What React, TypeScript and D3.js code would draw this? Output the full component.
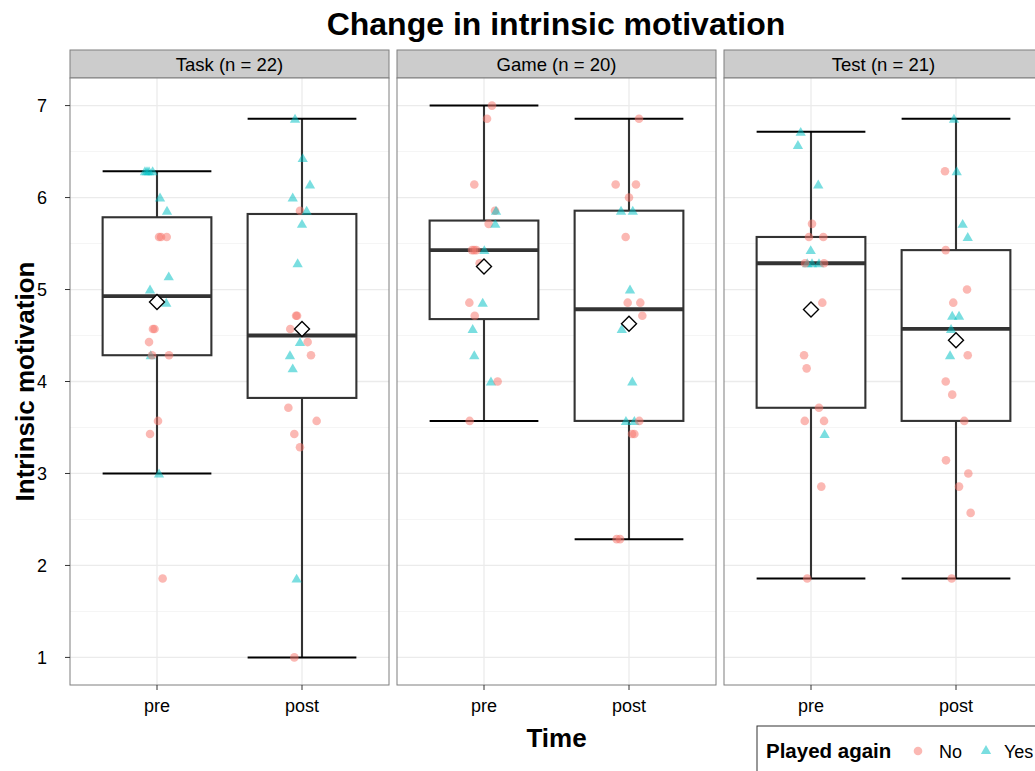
import React from 'react';
import * as d3 from 'd3';

// Facets (tasks) and the two measurement times
const taskLabels = ['Task (n = 22)', 'Game (n = 20)', 'Test (n = 21)'];
const times = ['pre', 'post'];
const yTicks = [1, 2, 3, 4, 5, 6, 7];
const yMinor = [1.5, 2.5, 3.5, 4.5, 5.5, 6.5];
const legendTitle = 'Played again';
const legendLabels = ['No', 'Yes'];

// Sum of the seven scale items per participant (scale score = sum / 7),
// whether they played again, and the horizontal jitter (in category steps)
const taskPreSum = [44, 44, 44, 44, 42, 41, 39, 39, 39, 36, 35, 34, 32, 32, 31, 30, 30, 30, 25, 24, 21, 13];
const taskPrePlayed = ['Yes', 'Yes', 'Yes', 'Yes', 'Yes', 'Yes', 'No', 'No', 'No', 'Yes', 'Yes', 'Yes', 'No', 'No', 'No', 'Yes', 'No', 'No', 'No', 'No', 'Yes', 'No'];
const taskPreJitter = [-0.083, -0.055, -0.03, -0.069, 0.021, 0.069, 0.014, 0.067, 0.028, 0.081, -0.048, 0.064, -0.028, -0.017, -0.055, -0.043, -0.034, 0.083, 0.007, -0.048, 0.014, 0.039];

const taskPostSum = [48, 45, 43, 42, 41, 41, 40, 37, 33, 33, 32, 31, 31, 30, 30, 29, 26, 25, 24, 23, 13, 7];
const taskPostPlayed = ['Yes', 'Yes', 'Yes', 'Yes', 'No', 'Yes', 'Yes', 'Yes', 'No', 'No', 'No', 'Yes', 'No', 'Yes', 'No', 'Yes', 'No', 'No', 'No', 'No', 'Yes', 'No'];
const taskPostJitter = [-0.048, 0.005, 0.055, -0.064, -0.014, 0.032, 0.0, -0.03, -0.041, -0.034, -0.081, -0.014, 0.039, -0.083, 0.062, -0.064, -0.094, 0.101, -0.053, -0.014, -0.037, -0.053];

const gamePreSum = [49, 48, 43, 41, 41, 40, 40, 38, 38, 38, 38, 37, 34, 34, 33, 32, 30, 28, 28, 25];
const gamePrePlayed = ['No', 'No', 'No', 'No', 'Yes', 'No', 'Yes', 'No', 'No', 'No', 'Yes', 'No', 'No', 'Yes', 'No', 'Yes', 'Yes', 'Yes', 'No', 'No'];
const gamePreJitter = [0.055, 0.021, -0.067, 0.076, 0.083, 0.032, 0.078, -0.083, -0.053, -0.069, 0.002, -0.03, -0.101, -0.009, -0.064, -0.078, -0.067, 0.048, 0.094, -0.099];

const gamePostSum = [48, 43, 43, 42, 41, 41, 39, 35, 34, 34, 33, 32, 28, 25, 25, 25, 24, 24, 16, 16];
const gamePostPlayed = ['No', 'No', 'No', 'No', 'Yes', 'Yes', 'No', 'Yes', 'No', 'No', 'No', 'Yes', 'Yes', 'Yes', 'Yes', 'No', 'No', 'No', 'No', 'No'];
const gamePostJitter = [0.069, -0.092, 0.048, 0.0, -0.055, 0.026, -0.023, 0.007, -0.009, 0.078, 0.092, -0.05, 0.023, -0.021, 0.037, 0.071, 0.037, 0.021, -0.085, -0.062];

const testPreSum = [47, 46, 43, 40, 39, 39, 38, 37, 37, 37, 37, 37, 34, 30, 29, 26, 25, 25, 24, 20, 13];
const testPrePlayed = ['Yes', 'Yes', 'Yes', 'No', 'No', 'No', 'Yes', 'Yes', 'Yes', 'Yes', 'No', 'No', 'No', 'No', 'No', 'No', 'No', 'No', 'Yes', 'No', 'No'];
const testPreJitter = [-0.071, -0.09, 0.05, 0.007, -0.014, 0.085, -0.002, -0.026, 0.055, 0.007, -0.041, 0.09, 0.078, -0.048, -0.03, 0.055, -0.043, 0.09, 0.094, 0.071, -0.026];

const testPostSum = [48, 44, 44, 40, 39, 38, 35, 34, 33, 33, 32, 30, 30, 28, 27, 25, 22, 21, 20, 18, 13];
const testPostPlayed = ['Yes', 'No', 'Yes', 'Yes', 'Yes', 'No', 'No', 'No', 'Yes', 'Yes', 'Yes', 'Yes', 'No', 'No', 'No', 'No', 'No', 'No', 'No', 'No', 'No'];
const testPostJitter = [-0.014, -0.076, 0.005, 0.046, 0.081, -0.071, 0.076, -0.019, -0.026, 0.021, -0.034, -0.041, 0.081, -0.071, -0.026, 0.057, -0.069, 0.085, 0.021, 0.101, -0.03];

const ITEMS = 7;

type Group = { sums: number[]; played: string[]; jitter: number[] };
const facets: Group[][] = [
  [
    { sums: taskPreSum, played: taskPrePlayed, jitter: taskPreJitter },
    { sums: taskPostSum, played: taskPostPlayed, jitter: taskPostJitter },
  ],
  [
    { sums: gamePreSum, played: gamePrePlayed, jitter: gamePreJitter },
    { sums: gamePostSum, played: gamePostPlayed, jitter: gamePostJitter },
  ],
  [
    { sums: testPreSum, played: testPrePlayed, jitter: testPreJitter },
    { sums: testPostSum, played: testPostPlayed, jitter: testPostJitter },
  ],
];

const FONT = 'Liberation Sans, Arial, Helvetica, sans-serif';
const colorScale = d3.scaleOrdinal<string, string>().domain(legendLabels).range(['#F8766D', '#00BFC4']);
const circlePath = d3.symbol().type(d3.symbolCircle).size(58)() as string;
const trianglePath = d3.symbol().type(d3.symbolTriangle).size(46)() as string;
const diamondPath = 'M0,-7.5L7.5,0L0,7.5L-7.5,0Z';

function boxStats(values: number[]) {
  const s = [...values].sort(d3.ascending);
  const q1 = d3.quantile(s, 0.25)!;
  const med = d3.quantile(s, 0.5)!;
  const q3 = d3.quantile(s, 0.75)!;
  const iqr = q3 - q1;
  const lo = d3.min(s.filter((v) => v >= q1 - 1.5 * iqr))!;
  const hi = d3.max(s.filter((v) => v <= q3 + 1.5 * iqr))!;
  return { q1, med, q3, lo, hi, mean: d3.mean(s)! };
}

export default function App() {
  const panelLefts = [70, 397, 724];
  const panelW = 319;
  const stripTop = 50;
  const panelTop = 78;
  const panelBottom = 685;

  const y = d3.scaleLinear().domain([0.7, 7.3]).range([panelBottom, panelTop]);

  return (
    <svg
      width={1035}
      height={771}
      style={{ position: 'absolute', left: 0, top: 0, display: 'block', background: '#fff' }}
      fontFamily={FONT}
    >
      <text x={556} y={35} textAnchor="middle" fontSize={32} fontWeight="bold" fill="#000">
        Change in intrinsic motivation
      </text>

      {facets.map((groups, fi) => {
        const left = panelLefts[fi];
        const x = d3.scalePoint<string>().domain(times).range([left, left + panelW]).padding(0.6);
        const step = x.step();
        const boxW = 0.75 * step;
        return (
          <g key={fi}>
            {/* strip */}
            <rect x={left} y={stripTop} width={panelW} height={panelTop - stripTop} fill="#cccccc" stroke="#7f7f7f" strokeWidth={1} />
            <text x={left + panelW / 2} y={71} textAnchor="middle" fontSize={18.5} fill="#000">
              {taskLabels[fi]}
            </text>
            {/* panel background and grid */}
            <rect x={left} y={panelTop} width={panelW} height={panelBottom - panelTop} fill="#fff" />
            {yMinor.map((t) => (
              <line key={'m' + t} x1={left} x2={left + panelW} y1={y(t)} y2={y(t)} stroke="#f5f5f5" strokeWidth={1} />
            ))}
            {yTicks.map((t) => (
              <line key={'M' + t} x1={left} x2={left + panelW} y1={y(t)} y2={y(t)} stroke="#ebebeb" strokeWidth={1.3} />
            ))}
            {times.map((t) => (
              <line key={'v' + t} x1={x(t)} x2={x(t)} y1={panelTop} y2={panelBottom} stroke="#ebebeb" strokeWidth={1.3} />
            ))}

            {groups.map((g, ti) => {
              const cx = x(times[ti])!;
              const vals = g.sums.map((s) => s / ITEMS);
              const st = boxStats(vals);
              return (
                <g key={ti}>
                  {/* whisker line and caps */}
                  <line x1={cx} x2={cx} y1={y(st.hi)} y2={y(st.lo)} stroke="#333" strokeWidth={2.1} />
                  <line x1={cx - boxW / 2} x2={cx + boxW / 2} y1={y(st.hi)} y2={y(st.hi)} stroke="#000" strokeWidth={2} />
                  <line x1={cx - boxW / 2} x2={cx + boxW / 2} y1={y(st.lo)} y2={y(st.lo)} stroke="#000" strokeWidth={2} />
                  {/* box */}
                  <rect
                    x={cx - boxW / 2}
                    y={y(st.q3)}
                    width={boxW}
                    height={y(st.q1) - y(st.q3)}
                    fill="#fff"
                    stroke="#333"
                    strokeWidth={2.1}
                  />
                  <line x1={cx - boxW / 2} x2={cx + boxW / 2} y1={y(st.med)} y2={y(st.med)} stroke="#333" strokeWidth={3.8} />
                  {/* participants */}
                  {vals.map((v, i) => (
                    <path
                      key={i}
                      d={g.played[i] === 'Yes' ? trianglePath : circlePath}
                      transform={`translate(${cx + g.jitter[i] * step},${y(v) + (g.played[i] === 'Yes' ? 1 : 0)})`}
                      fill={colorScale(g.played[i])}
                      fillOpacity={0.52}
                    />
                  ))}
                  {/* mean */}
                  <path d={diamondPath} transform={`translate(${cx},${y(st.mean)})`} fill="#fff" stroke="#000" strokeWidth={1.4} />
                </g>
              );
            })}

            {/* panel border */}
            <rect x={left} y={panelTop} width={panelW} height={panelBottom - panelTop} fill="none" stroke="#7f7f7f" strokeWidth={1} />

            {/* x axis */}
            {times.map((t) => (
              <g key={'xt' + t}>
                <line x1={x(t)} x2={x(t)} y1={panelBottom} y2={panelBottom + 5} stroke="#333" strokeWidth={1} />
                <text x={x(t)} y={712} textAnchor="middle" fontSize={18} fill="#000">
                  {t}
                </text>
              </g>
            ))}
          </g>
        );
      })}

      {/* y axis */}
      {yTicks.map((t) => (
        <g key={'yt' + t}>
          <line x1={65} x2={70} y1={y(t)} y2={y(t)} stroke="#333" strokeWidth={1} />
          <text x={47} y={y(t) + 6.5} textAnchor="end" fontSize={18} fill="#000">
            {t}
          </text>
        </g>
      ))}
      <text
        transform={`translate(34,${(panelTop + panelBottom) / 2}) rotate(-90)`}
        textAnchor="middle"
        fontSize={26}
        fontWeight="bold"
        fill="#000"
      >
        Intrinsic motivation
      </text>
      <text x={556.5} y={747} textAnchor="middle" fontSize={26} fontWeight="bold" fill="#000">
        Time
      </text>

      {/* legend */}
      <rect x={757} y={726} width={340} height={80} fill="#fff" stroke="#333" strokeWidth={1} />
      <text x={766} y={758} fontSize={20.5} fontWeight="bold" fill="#000">
        {legendTitle}
      </text>
      <path d={circlePath} transform="translate(918,751)" fill={colorScale('No')} fillOpacity={0.52} />
      <text x={939} y={758} fontSize={18} fill="#000">
        {legendLabels[0]}
      </text>
      <path d={trianglePath} transform="translate(986,751)" fill={colorScale('Yes')} fillOpacity={0.52} />
      <text x={1004} y={758} fontSize={18} fill="#000">
        {legendLabels[1]}
      </text>
    </svg>
  );
}
